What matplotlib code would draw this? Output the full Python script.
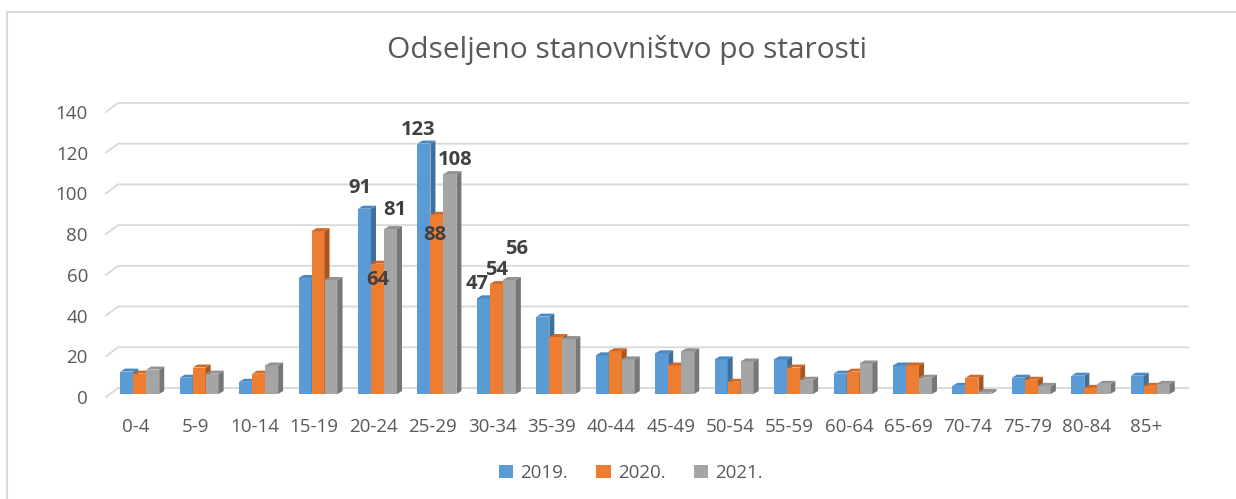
import matplotlib.pyplot as plt
from matplotlib.patches import Polygon, Rectangle, Patch
from matplotlib.lines import Line2D

plt.rcParams['font.family'] = ['Open Sans', 'DejaVu Sans']

# podaci
categories = ['0-4', '5-9', '10-14', '15-19', '20-24', '25-29', '30-34', '35-39',
              '40-44', '45-49', '50-54', '55-59', '60-64', '65-69', '70-74',
              '75-79', '80-84', '85+']
series_names = ['2019.', '2020.', '2021.']
v2019 = [11, 8, 6, 57, 91, 123, 47, 38, 19, 20, 17, 17, 10, 14, 4, 8, 9, 9]
v2020 = [10, 13, 10, 80, 64, 88, 54, 28, 21, 14, 6, 13, 11, 14, 8, 7, 3, 4]
v2021 = [12, 10, 14, 56, 81, 108, 56, 27, 17, 21, 16, 7, 15, 8, 1, 4, 5, 5]
yticks = [0, 20, 40, 60, 80, 100, 120, 140]

# oznake vrijednosti (kategorija, serija)
label_cats = [4, 4, 4, 5, 5, 5, 6, 6, 6]
label_series = [0, 1, 2, 0, 1, 2, 0, 1, 2]

series = [v2019, v2020, v2021]
front = ['#5B9BD5', '#ED7D31', '#A5A5A5']
side = ['#3F6F9C', '#A9561F', '#777777']
top = ['#4A88C2', '#D06A25', '#929292']
txt = '#595959'

W, H = 1236, 499
fig = plt.figure(figsize=(W / 100, H / 100), dpi=100)

# okvir
fig.patches.append(Rectangle((7 / W, -0.1), 1.2, 1 - 12 / H + 0.1, transform=fig.transFigure,
                             fill=False, edgecolor='#d9d9d9', linewidth=1.5))

ax = fig.add_axes([106 / W, (H - 397) / H, 1070 / W, 145 * 2.036 / H])
ax.set_xlim(-0.5, len(categories) - 0.5)
ax.set_ylim(0, 145)
for s in ax.spines.values():
    s.set_visible(False)

px_x = 1070 / 18.0   # piksela po kategoriji
px_y = 2.036         # piksela po jedinici
wall_dx = 12 / px_x
wall_dy = 9 / px_y

# mreza sa 3D "zidom"
for t in yticks:
    ax.add_line(Line2D([-0.5, -0.5 + wall_dx, 17.5 + wall_dx], [t, t + wall_dy, t + wall_dy],
                       color='#d9d9d9', lw=1.3, clip_on=False, zorder=0))

ax.set_yticks(yticks)
ax.set_xticks(range(len(categories)))
ax.set_xticklabels(categories)
ax.tick_params(axis='y', length=0, pad=13, labelsize=13.5, labelcolor=txt)
ax.tick_params(axis='x', length=0, pad=15, labelsize=13.5, labelcolor=txt)

bw = 13 / px_x
dx = 5 / px_x
dy = 3 / px_y
base = 3 / px_y
start = -15.5 / px_x

for j, vals in enumerate(series):
    for i, v in enumerate(vals):
        x0 = i + start + j * bw
        y0 = base
        y1 = base + v
        z = 2 + i * 3 + j
        ax.add_patch(Rectangle((x0, y0), bw, v, facecolor=front[j], edgecolor='none',
                               zorder=z, clip_on=False))
        ax.add_patch(Polygon([(x0 + bw, y0), (x0 + bw + dx, y0 + dy), (x0 + bw + dx, y1 + dy),
                              (x0 + bw, y1)], closed=True, facecolor=side[j], edgecolor='none',
                             zorder=z, clip_on=False))
        ax.add_patch(Polygon([(x0, y1), (x0 + dx, y1 + dy), (x0 + bw + dx, y1 + dy),
                              (x0 + bw, y1)], closed=True, facecolor=top[j], edgecolor='none',
                             zorder=z, clip_on=False))

# pomaci oznaka u pikselima
offsets = [(-5, 21), (0, -16), (4, 19), (-6, 14), (-2, -20), (5, 14), (-6, 14), (0, 14), (7, 31)]
for (ci, sj), (ox, oy) in zip(zip(label_cats, label_series), offsets):
    v = series[sj][ci]
    xc = ci + start + sj * bw + bw / 2
    ax.annotate(str(v), (xc, base + v), xytext=(ox, oy), textcoords='offset pixels',
                ha='center', va='center', fontsize=14.5, fontweight='bold', color='#404040',
                zorder=100)

fig.text(627 / W, 1 - 50 / H, 'Odseljeno stanovništvo po starosti', ha='center', va='center',
         fontsize=21.5, color=txt)

handles = [Patch(facecolor=c, edgecolor='none') for c in front]
fig.legend(handles, series_names, loc='center', bbox_to_anchor=(631 / W, 1 - 473 / H), ncol=3,
           frameon=False, fontsize=13.5, labelcolor=txt, handlelength=0.75, handleheight=0.75,
           handletextpad=0.4, columnspacing=1.5)

fig.savefig('out.png', dpi=100)
